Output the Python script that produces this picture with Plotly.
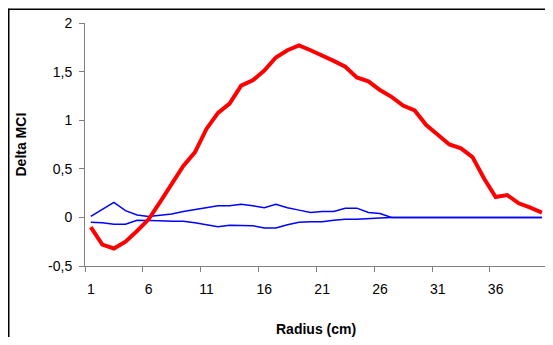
import plotly.graph_objects as go

radius = list(range(1, 41))
red_vals = [-0.10, -0.28, -0.32, -0.25, -0.14, -0.02, 0.16, 0.34, 0.53, 0.67,
            0.91, 1.075, 1.17, 1.355, 1.41, 1.51, 1.645, 1.72, 1.77, 1.72,
            1.67, 1.61, 1.55, 1.44, 1.40, 1.31, 1.24, 1.15, 1.10, 0.95,
            0.85, 0.75, 0.71, 0.62, 0.40, 0.21, 0.23, 0.145, 0.10, 0.05]
upper_vals = [0.01, 0.08, 0.155, 0.07, 0.025, 0.01, 0.02, 0.035, 0.06, 0.08,
              0.10, 0.12, 0.12, 0.135, 0.12, 0.10, 0.135, 0.10, 0.075, 0.05,
              0.06, 0.06, 0.095, 0.095, 0.05, 0.04, 0.0, 0, 0, 0,
              0, 0, 0, 0, 0, 0, 0, 0, 0, 0]
lower_vals = [-0.05, -0.055, -0.07, -0.07, -0.03, -0.03, -0.035, -0.04, -0.04, -0.055,
              -0.075, -0.095, -0.08, -0.08, -0.085, -0.11, -0.11, -0.075, -0.05, -0.045,
              -0.045, -0.03, -0.02, -0.02, -0.017, -0.007, 0.0, 0, 0, 0,
              0, 0, 0, 0, 0, 0, 0, 0, 0, 0]
x_tick_vals = [1, 6, 11, 16, 21, 26, 31, 36]
x_tick_text = ["1", "6", "11", "16", "21", "26", "31", "36"]
y_tick_vals = [-0.5, 0, 0.5, 1, 1.5, 2]
y_tick_text = ["-0,5", "0", "0,5", "1", "1,5", "2"]
x_boundaries = [0.5 + 5 * k for k in range(9)]

# page offset of the plot div (default body margin); keep the page from overflowing
OX, OY = 8, 8
W, H = 553 - 2 * OX, 345 - 2 * OY
# target plot area in page pixels
PX0, PY0, PY1 = 85, 23.3, 266
PX_FULL = 547.7                 # where category edge 40.5 would sit
PX1 = OX + W                    # right edge of the drawable figure
cat_px = (PX_FULL - PX0) / 40.0
x_max = 40.5 - (PX_FULL - PX1) / cat_px
L, R = PX0 - OX, 0
T, B = PY0 - OY, H - (PY1 - OY)
pw, ph = W - L - R, H - T - B

def px_to_paper_x(px):
    return (px - PX0) / pw

def px_to_paper_y(py):
    return (PY1 - py) / ph

fig = go.Figure()
fig.add_trace(go.Scatter(x=radius, y=upper_vals, mode="lines",
                         line=dict(color="#0000FF", width=1.5), showlegend=False))
fig.add_trace(go.Scatter(x=radius, y=lower_vals, mode="lines",
                         line=dict(color="#0000FF", width=1.5), showlegend=False))
fig.add_trace(go.Scatter(x=radius, y=red_vals, mode="lines",
                         line=dict(color="#FF0000", width=4), showlegend=False,
                         cliponaxis=False))

font = dict(family="Liberation Sans, Arial, sans-serif", size=14, color="black")

border = dict(color="black", width=1.5)

fig.update_layout(
    width=W, height=H,
    margin=dict(l=L, r=R, t=T, b=B, pad=0),
    paper_bgcolor="white", plot_bgcolor="white",
    font=font,
    xaxis=dict(range=[0.5, x_max], tickmode="array", tickvals=x_tick_vals,
               ticktext=x_tick_text, ticks="", showgrid=False, zeroline=False,
               showline=True, linecolor="#808080", linewidth=1,
               ticklabelstandoff=10,
               minor=dict(tickmode="array", tickvals=x_boundaries, ticks="outside",
                          ticklen=5, tickcolor="#808080", tickwidth=1, showgrid=False)),
    yaxis=dict(range=[-0.5, 2.0], tickmode="array", tickvals=y_tick_vals,
               ticktext=y_tick_text, ticks="outside", ticklen=5, tickcolor="#808080",
               showgrid=False, zeroline=False, showline=True, linecolor="#808080",
               linewidth=1, ticklabelstandoff=4),
    annotations=[
        dict(text="<b>Radius (cm)</b>", xref="paper", yref="paper",
             x=px_to_paper_x(316), y=px_to_paper_y(328.5), xanchor="center",
             yanchor="middle", showarrow=False, font=font),
        dict(text="<b>Delta MCI</b>", xref="paper", yref="paper",
             x=px_to_paper_x(20), y=0.5, xanchor="center", yanchor="middle",
             textangle=-90, showarrow=False, font=font),
    ],
    shapes=[
        dict(type="line", xref="paper", yref="paper",
             x0=px_to_paper_x(8), x1=px_to_paper_x(600),
             y0=px_to_paper_y(9.5), y1=px_to_paper_y(9.5),
             line=border, layer="below"),
        dict(type="line", xref="paper", yref="paper",
             x0=px_to_paper_x(8.75), x1=px_to_paper_x(8.75),
             y0=px_to_paper_y(9), y1=px_to_paper_y(400),
             line=border, layer="below"),
    ],
)

fig.write_html("out.html")
